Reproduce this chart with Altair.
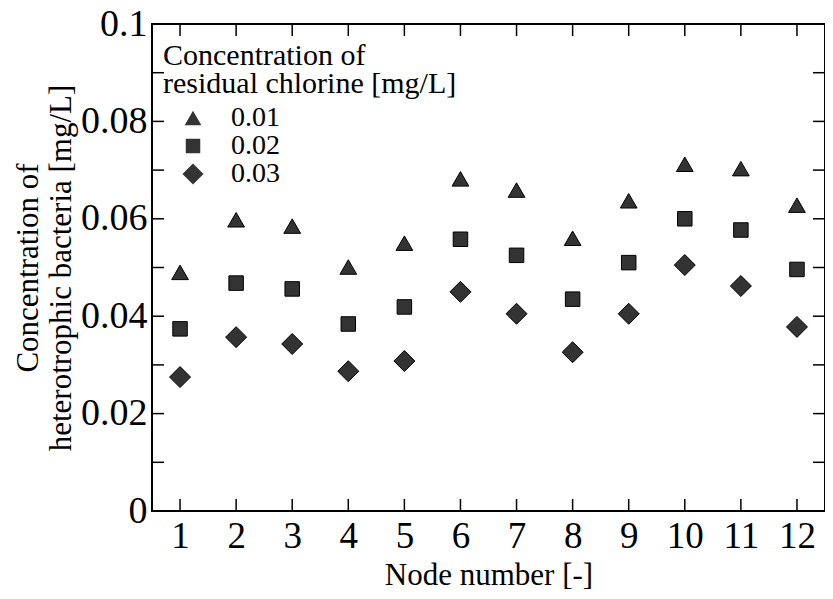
import altair as alt
import pandas as pd

# ---- data ----
nodes = [1, 2, 3, 4, 5, 6, 7, 8, 9, 10, 11, 12]
cl_001 = [0.0490, 0.0598, 0.0585, 0.0501, 0.0550, 0.0682, 0.0659, 0.0560, 0.0637, 0.0712, 0.0703, 0.0628]
cl_002 = [0.0374, 0.0468, 0.0456, 0.0384, 0.0419, 0.0558, 0.0525, 0.0435, 0.0510, 0.0600, 0.0577, 0.0496]
cl_003 = [0.0275, 0.0357, 0.0343, 0.0287, 0.0308, 0.0450, 0.0405, 0.0326, 0.0405, 0.0505, 0.0462, 0.0378]
series_labels = ["0.01", "0.02", "0.03"]
x_tick_values = [1, 2, 3, 4, 5, 6, 7, 8, 9, 10, 11, 12]
y_tick_values = [0, 0.01, 0.02, 0.03, 0.04, 0.05, 0.06, 0.07, 0.08, 0.09, 0.1]

rows = []
for lab, vals in zip(series_labels, [cl_001, cl_002, cl_003]):
    for n, v in zip(nodes, vals):
        rows.append({"node": n, "value": v, "series": lab})
df = pd.DataFrame(rows)
xt = pd.DataFrame({"node": x_tick_values})
yt = pd.DataFrame({"value": y_tick_values})

W, H = 673, 487
FONT = "Liberation Serif"
TL = 12  # tick length

xscale = alt.Scale(domain=[0.5, 12.5], nice=False, zero=False)
yscale = alt.Scale(domain=[0, 0.1], nice=False, zero=False)

x_axis = alt.Axis(
    values=x_tick_values, format="d", ticks=False, tickSize=0, domain=False, grid=False,
    labelFont=FONT, labelFontSize=37, labelColor="black", labelBaseline="alphabetic",
    labelPadding=36, labelFlush=False, labelOverlap=False,
    title="Node number [-]", titleFont=FONT, titleFontSize=31, titleFontWeight="normal",
    titleColor="black", titleX=W / 2, titleY=73, titleAlign="center",
    titleBaseline="alphabetic")
y_axis = alt.Axis(
    values=y_tick_values,
    labelExpr="round(datum.value*100) % 2 == 0 ? format(datum.value, '~g') : ''",
    ticks=False, tickSize=0, domain=False, grid=False,
    labelFont=FONT, labelFontSize=38, labelColor="black", labelPadding=5,
    labelFlush=False, labelOverlap=False, labelBaseline="middle",
    title=["Concentration of", "heterotrophic bacteria [mg/L]"],
    titleFont=FONT, titleFontSize=31, titleFontWeight="normal", titleColor="black",
    titleAngle=-90, titleX=-115, titleY=H / 2, titleAlign="center",
    titleBaseline="alphabetic", titleLineHeight=33)

legend_title = ["Concentration of", "residual chlorine [mg/L]"]

points = alt.Chart(df).mark_point(
    filled=True, fill="#333333", stroke="#000000", strokeWidth=1, opacity=1
).encode(
    x=alt.X("node:Q", scale=xscale, axis=x_axis),
    y=alt.Y("value:Q", scale=yscale, axis=y_axis),
    shape=alt.Shape("series:N", scale=alt.Scale(domain=series_labels,
                    range=["triangle-up", "square", "diamond"]),
                    legend=alt.Legend(title=legend_title)),
    size=alt.Size("series:N", scale=alt.Scale(type="ordinal", domain=series_labels,
                  range=[280, 210, 440]),
                  legend=alt.Legend(title=legend_title)),
)

xb = alt.Chart(xt).mark_rule(color="black", strokeWidth=1.5).encode(
    x=alt.X("node:Q", scale=xscale, axis=x_axis), y=alt.value(H), y2=alt.value(H - TL))
xtp = alt.Chart(xt).mark_rule(color="black", strokeWidth=1.5).encode(
    x=alt.X("node:Q", scale=xscale, axis=x_axis), y=alt.value(0), y2=alt.value(TL))
yl = alt.Chart(yt).mark_rule(color="black", strokeWidth=1.5).encode(
    y=alt.Y("value:Q", scale=yscale, axis=y_axis), x=alt.value(0), x2=alt.value(TL))
yr = alt.Chart(yt).mark_rule(color="black", strokeWidth=1.5).encode(
    y=alt.Y("value:Q", scale=yscale, axis=y_axis), x=alt.value(W), x2=alt.value(W - TL))

chart = alt.layer(points, xb, xtp, yl, yr).properties(
    width=W, height=H,
    autosize=alt.AutoSizeParams(type="none"),
    padding={"left": 144, "top": 16, "right": 0, "bottom": 80},
).configure(
    font=FONT
).configure_axis(
    labelFont=FONT, titleFont=FONT, titleFontWeight="normal"
).configure_view(
    stroke="black", strokeWidth=2
).configure_legend(
    orient="none", legendX=11, legendY=17, padding=0,
    titleFont=FONT, titleFontSize=30, titleFontWeight="normal", titleColor="black",
    titleLineHeight=28, titlePadding=5, titleLimit=600, titleBaseline="top",
    labelFont=FONT, labelFontSize=28, labelColor="black", labelOffset=24,
    symbolOffset=16, rowPadding=0, symbolFillColor="#333333", symbolStrokeColor="#000000",
    symbolStrokeWidth=1, symbolOpacity=1
)

chart.save("out.html", embed_options={"renderer": "svg", "actions": False})
